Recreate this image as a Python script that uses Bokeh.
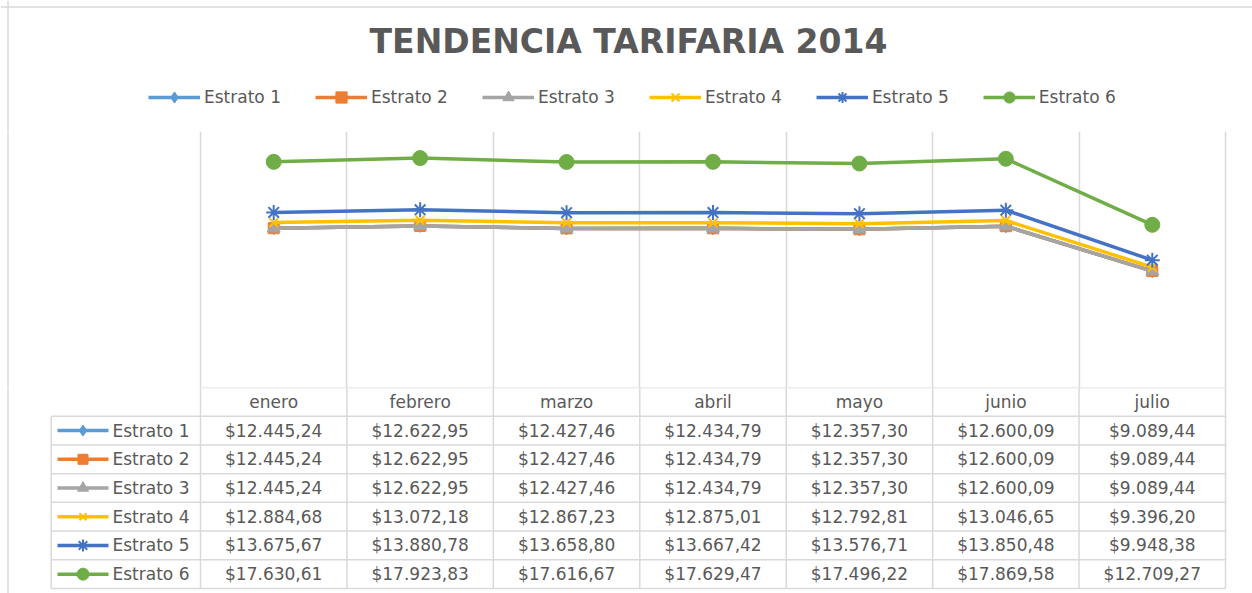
from bokeh.plotting import figure
from bokeh.models import Range1d, Legend, LegendItem, FixedTicker, Grid, ColumnDataSource, Label, Span
from bokeh.layouts import column
from bokeh.embed import file_html
from bokeh.resources import INLINE
from bokeh.core.properties import value

# ---------------- data ----------------
title_text = "TENDENCIA TARIFARIA 2014"
months = ["enero", "febrero", "marzo", "abril", "mayo", "junio", "julio"]
series_names = ["Estrato 1", "Estrato 2", "Estrato 3", "Estrato 4", "Estrato 5", "Estrato 6"]
estrato_1 = [12445.24, 12622.95, 12427.46, 12434.79, 12357.30, 12600.09, 9089.44]
estrato_2 = [12445.24, 12622.95, 12427.46, 12434.79, 12357.30, 12600.09, 9089.44]
estrato_3 = [12445.24, 12622.95, 12427.46, 12434.79, 12357.30, 12600.09, 9089.44]
estrato_4 = [12884.68, 13072.18, 12867.23, 12875.01, 12792.81, 13046.65, 9396.20]
estrato_5 = [13675.67, 13880.78, 13658.80, 13667.42, 13576.71, 13850.48, 9948.38]
estrato_6 = [17630.61, 17923.83, 17616.67, 17629.47, 17496.22, 17869.58, 12709.27]
y_min, y_max = 0, 20000

series_values = [estrato_1, estrato_2, estrato_3, estrato_4, estrato_5, estrato_6]

# ---------------- styles ----------------
colors = ["#5B9BD5", "#ED7D31", "#A5A5A5", "#FFC000", "#4472C4", "#70AD47"]
markers = ["diamond", "square", "triangle", "x", "asterisk", "circle"]
marker_sizes = [13, 11, 13, 12, 15, 15]
key_sizes = [11, 10, 11, 10, 12, 12]
marker_lw = [1, 1, 1, 2, 2, 1]
text_color = "#595959"
grid_color = "#D9D9D9"
FONT = "DejaVu Sans"

W = 1252
H0 = 131   # title + legend band
H1 = 256   # plot area
H2 = 206   # data table
frame_left = 200
n = len(months)
col_px = 1025 / n
x_start = -frame_left / col_px
x_end = n + (W - frame_left - 1025) / col_px

def fmt(v):
    s = f"{v:,.2f}"
    s = s.replace(",", "#").replace(".", ",").replace("#", ".")
    return "$" + s

def px_to_x(px):
    return x_start + px / col_px

def base_fig(h, y_range):
    f = figure(width=W, height=h, x_range=Range1d(x_start, x_end), y_range=y_range,
               x_axis_location=None, y_axis_location=None, toolbar_location=None,
               output_backend="svg", min_border_left=0, min_border_right=0,
               min_border_bottom=0, min_border_top=0, outline_line_color=None)
    f.xgrid.visible = False
    f.ygrid.visible = False
    f.add_layout(Span(location=px_to_x(7.5), dimension="height",
                      line_color=grid_color, line_width=1.5))
    return f

xs = [i + 0.5 for i in range(n)]

# ---------------- title + legend ----------------
top = base_fig(H0, Range1d(0, 1))
top.add_layout(Span(location=1 - 6.5 / H0, dimension="width", line_color=grid_color, line_width=1.5))
top.add_layout(Label(x=628, y=H0 - 41, x_units="screen", y_units="screen", text=title_text,
                     text_align="center", text_baseline="middle", text_font=FONT,
                     text_font_size="33px", text_font_style="bold", text_color=text_color))

items = []
for name, vals, c, m, ks, lw in zip(series_names, series_values, colors, markers, key_sizes, marker_lw):
    # same series drawn in this band only for the legend keys (values lie outside its 0..1 range)
    r1 = top.line(x=xs, y=vals, line_color=c, line_width=3.5)
    r2 = top.scatter(x=xs, y=vals, marker=m, size=ks, fill_color=c, line_color=c, line_width=lw)
    items.append(LegendItem(label=name, renderers=[r1, r2]))
legend = Legend(items=items, orientation="horizontal", location=(148, 20),
                glyph_width=52, glyph_height=28, label_standoff=4, spacing=34,
                padding=5, margin=0, border_line_color=None, background_fill_alpha=0,
                label_text_font=FONT, label_text_font_size="17px", label_text_color=text_color)
top.add_layout(legend)

# ---------------- chart ----------------
p = base_fig(H1, Range1d(y_min, y_max))
p.add_layout(Grid(dimension=0, ticker=FixedTicker(ticks=list(range(n + 1))),
                  grid_line_color=grid_color, grid_line_width=1.5))
for name, vals, c, m, ms, lw in zip(series_names, series_values, colors, markers, marker_sizes, marker_lw):
    src = ColumnDataSource(dict(x=xs, y=vals))
    p.line("x", "y", source=src, line_color=c, line_width=3.5)
    p.scatter("x", "y", source=src, marker=m, size=ms, fill_color=c, line_color=c, line_width=lw)

# ---------------- data table ----------------
row_px = 201 / 7
t = base_fig(H2, Range1d(start=-0.5 + H2 / row_px, end=-0.5))
lab_left = px_to_x(50.7)
nrows = len(series_names)
hx0, hx1, hy = [0], [n], [-0.5]
for r in range(nrows + 1):
    hx0.append(lab_left); hx1.append(n); hy.append(r + 0.5)
t.segment(x0=hx0, y0=hy, x1=hx1, y1=hy, line_color=grid_color, line_width=1.5)
vx, vy0, vy1 = [lab_left], [0.5], [nrows + 0.5]
for i in range(n + 1):
    vx.append(i); vy0.append(-0.5); vy1.append(nrows + 0.5)
t.segment(x0=vx, y0=vy0, x1=vx, y1=vy1, line_color=grid_color, line_width=1.5)

t.text(x=xs, y=[0] * n, text=months, text_align="center", text_baseline="middle",
       text_font=value(FONT), text_font_size="17px", text_color=text_color)
cx, cy, ct = [], [], []
for r, vals in enumerate(series_values):
    for i, v in enumerate(vals):
        cx.append(i + 0.5); cy.append(r + 1); ct.append(fmt(v))
t.text(x=cx, y=cy, text=ct, text_align="center", text_baseline="middle",
       text_font=value(FONT), text_font_size="17px", text_color=text_color)
for r, (name, c, m, ks, lw) in enumerate(zip(series_names, colors, markers, key_sizes, marker_lw)):
    t.segment(x0=[px_to_x(57)], y0=[r + 1], x1=[px_to_x(108)], y1=[r + 1], line_color=c, line_width=3.5)
    t.scatter(x=[px_to_x(82.5)], y=[r + 1], marker=m, size=ks, fill_color=c, line_color=c, line_width=lw)
t.text(x=[px_to_x(112)] * nrows, y=[r + 1 for r in range(nrows)], text=series_names,
       text_align="left", text_baseline="middle",
       text_font=value(FONT), text_font_size="17px", text_color=text_color)

layout = column(top, p, t, spacing=0)
open("out.html", "w").write(file_html(layout, INLINE))
